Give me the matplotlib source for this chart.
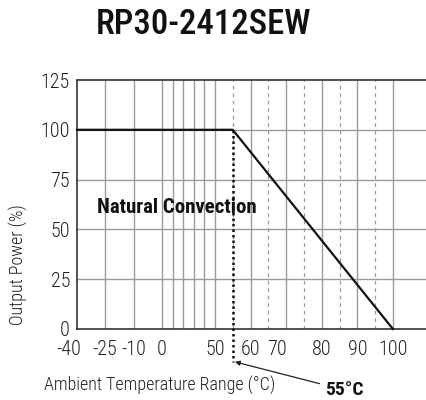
import numpy as np
import matplotlib
matplotlib.use("Agg")
import matplotlib.pyplot as plt
from matplotlib.transforms import ScaledTranslation

# ---- data ----
title = "RP30-2412SEW"
curve_temp = [-40, 55, 100]
curve_power = [100, 100, 0]
xtick_values = [-40, -25, -10, 0, 50, 60, 70, 80, 90, 100]
xtick_labels = ["-40", "-25", "-10", "0", "50", "60", "70", "80", "90", "100"]
solid_grid_x = [-25, -10, 0, 10, 20, 30, 40, 50, 60, 70, 80, 90, 100]
dashed_grid_x = [55, 65, 75, 85, 95]
ytick_values = [0, 25, 50, 75, 100, 125]
marker_temp = 55
marker_label = "55°C"
region_label = "Natural Convection"

# ---- fonts ----
FAM = ['Roboto Condensed', 'Archivo Narrow', 'Roboto', 'DejaVu Sans']
plt.rcParams['font.family'] = FAM

# piecewise axis scale (segmented temperature axis)
scale_T = [-40, -25, -10, 0, 50, 100, 110]
scale_P = [0, 28, 57, 85, 138, 316, 351.6]
def fwd(x):
    return np.interp(x, scale_T, scale_P)
def inv(p):
    return np.interp(p, scale_P, scale_T)

fig = plt.figure(figsize=(4.26, 4.0), dpi=100)
ax = fig.add_axes([77/426, 1-329/400, 1-77/426, 249/400])
ax.set_xscale('function', functions=(fwd, inv))
ax.set_xlim(-40, 109.3)
ax.set_ylim(0, 125)

gc = '#9a9a9a'
for x in solid_grid_x:
    ax.axvline(x, color=gc, lw=1.0, zorder=1)
for x in dashed_grid_x:
    ax.axvline(x, color=gc, lw=0.9, ls=(0, (3, 3)), zorder=1)
for y in ytick_values[1:-1]:
    ax.axhline(y, color=gc, lw=1.0, zorder=1)

ax.plot(curve_temp, curve_power, color='#111111', lw=1.6, zorder=3, clip_on=False)

# dotted marker line at 55 extends below the axis
ax.plot([marker_temp, marker_temp], [100, -16.5], color='#111111', lw=1.8,
        ls=(0, (1, 1.2)), zorder=4, clip_on=False)
ax.annotate(marker_label, xy=(marker_temp + 0.6, -16.5), xycoords='data',
            xytext=(325/426, 1-390/400), textcoords='figure fraction',
            fontsize=14, fontweight='bold', color='#111111', va='center', ha='left',
            arrowprops=dict(arrowstyle='-|>', color='#222222', lw=0.9,
                            mutation_scale=7, shrinkA=2, shrinkB=0),
            annotation_clip=False)

ax.text(-29.5, 61, region_label, fontsize=15, fontweight='bold', color='#111111',
        ha='left', va='center', zorder=5)

for s in ['left', 'bottom', 'top']:
    ax.spines[s].set_color('#333333')
    ax.spines[s].set_linewidth(1.2)
ax.spines['right'].set_visible(False)

ax.set_xticks(xtick_values)
ax.set_xticklabels(xtick_labels)
ax.set_yticks(ytick_values)
ax.xaxis.set_minor_locator(matplotlib.ticker.NullLocator())
ax.tick_params(axis='both', length=0, labelsize=14.5, colors='#222222')
ax.tick_params(axis='x', pad=8)
ax.tick_params(axis='y', pad=5)
for lab in ax.get_xticklabels() + ax.get_yticklabels():
    lab.set_fontweight('light')

labels = ax.get_xticklabels()
labels[0].set_transform(labels[0].get_transform() + ScaledTranslation(-8/100, 0, fig.dpi_scale_trans))
labels[6].set_transform(labels[6].get_transform() + ScaledTranslation(-9/100, 0, fig.dpi_scale_trans))

ax.set_xlabel("Ambient Temperature Range (°C)", fontsize=13, color='#222222', fontweight='light')
ax.set_ylabel("Output Power (%)", fontsize=13, color='#222222', fontweight='light')
ax.xaxis.label.set_va('center')
ax.yaxis.label.set_va('center')
ax.xaxis.set_label_coords((160-77)/349, (329-385)/249)
ax.yaxis.set_label_coords((18-77)/349, (329-265)/249)

fig.text(204/426, 1-25/400, title, fontsize=25, fontweight=500, color='#111111',
         ha='center', va='center')

fig.savefig("out.png", dpi=100)
